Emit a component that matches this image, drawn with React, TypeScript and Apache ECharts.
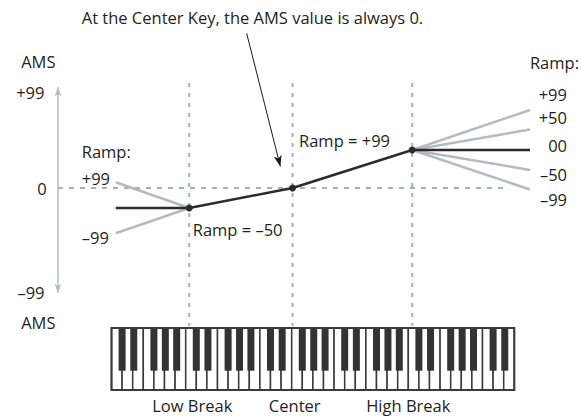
import React, { useEffect, useRef } from "react";
import * as echarts from "echarts";

// ---- data ----
const whiteKeyCount = 38; // C .. E, five octaves + 3 keys
const blackKeyOffsets = [1.0, 2.1, 4.0, 5.08, 6.15]; // C# D# F# G# A# within an octave (white-key units)
const breakNames = ["Low Break", "Center", "High Break"];
const breakKeys = [7.33, 17.08, 28.37];
const breakAms = [-20, 0, 38];
const curveStartKey = 0.4;
const curveEndKey = 39.48;
const leftRampLabels = ["+99", "–99"];
const leftRampStart = [5.7, -45.3];
const rightRampLabels = ["+99", "+50", "00", "–50", "–99"];
const rightRampEnd = [78, 58.5, 38, 18, -1.5];
const yTickLabels = ["+99", "0", "–99"];
const title = "At the Center Key, the AMS value is always 0.";

// ---- style constants ----
const FONT = "16.5px 'Open Sans'";
const TXT = "#231f20";
const DARK = "#2b2b2b";
const GRAY = "#b4bac1";
const DASH = "#a9afb6";
const KB_TOP = -140;
const KB_BOTTOM = -202;
const BK_BOTTOM = -182.7;
const BK_HALF = 0.33;
const AXIS_KEY = -5.05;

function buildOption(): any {
  const whiteKeys = Array.from({ length: whiteKeyCount }, (_, i) => [i]);
  const blackKeys: number[][] = [];
  for (let o = 0; o * 7 < whiteKeyCount; o++) {
    for (const off of blackKeyOffsets) {
      const c = o * 7 + off;
      if (c < whiteKeyCount - 0.5) blackKeys.push([c]);
    }
  }

  const series: any[] = [];

  // zero line + axis arrow + annotation arrow
  series.push({
    type: "line",
    data: [
      [AXIS_KEY, 0],
      [37.28, 0],
    ],
    symbol: "none",
    silent: true,
    lineStyle: { color: DASH, width: 2, type: [5, 6] },
    markLine: {
      silent: true,
      animation: false,
      label: { show: false },
      emphasis: { disabled: true },
      data: [
        [
          { coord: [AXIS_KEY, 100.7], symbol: "arrow", symbolSize: [5, 9], lineStyle: { color: GRAY, width: 1.5, type: "solid" } },
          { coord: [AXIS_KEY, -104.7], symbol: "arrow", symbolSize: [5, 9] },
        ],
        [
          { coord: [12.75, 154.7], symbol: "none", lineStyle: { color: "#1a1a1a", width: 1, type: "solid" } },
          { coord: [15.93, 21.6], symbol: "arrow", symbolSize: [6, 11] },
        ],
      ],
    },
  });

  // vertical dashed break lines
  breakKeys.forEach((k) => {
    series.push({
      type: "line",
      data: [
        [k, 105],
        [k, -138],
      ],
      symbol: "none",
      silent: true,
      lineStyle: { color: DASH, width: 2, type: [4, 6] },
    });
  });

  // gray ramps, left
  leftRampStart.forEach((v) => {
    series.push({
      type: "line",
      data: [
        [curveStartKey, v],
        [breakKeys[0], breakAms[0]],
      ],
      symbol: "none",
      silent: true,
      lineStyle: { color: GRAY, width: 2.5 },
    });
  });
  // gray ramps, right
  rightRampEnd.forEach((v, i) => {
    if (rightRampLabels[i] === "00") return;
    series.push({
      type: "line",
      data: [
        [breakKeys[2], breakAms[2]],
        [curveEndKey, v],
      ],
      symbol: "none",
      silent: true,
      lineStyle: { color: GRAY, width: 2.5 },
    });
  });

  // main curve
  series.push({
    type: "line",
    data: [
      { value: [curveStartKey, breakAms[0]], symbol: "none" },
      ...breakKeys.map((k, i) => [k, breakAms[i]]),
      { value: [curveEndKey, rightRampEnd[rightRampLabels.indexOf("00")]], symbol: "none" },
    ],
    symbol: "circle",
    symbolSize: 7,
    silent: true,
    z: 5,
    itemStyle: { color: DARK },
    lineStyle: { color: DARK, width: 2.5 },
  });

  // keyboard
  series.push({
    type: "custom",
    silent: true,
    z: 3,
    data: whiteKeys,
    renderItem: (params: any, api: any) => {
      const i = api.value(0);
      const p0 = api.coord([i, KB_TOP]);
      const p1 = api.coord([i + 1, KB_BOTTOM]);
      return {
        type: "rect",
        shape: { x: p0[0], y: p0[1], width: p1[0] - p0[0], height: p1[1] - p0[1] },
        style: { fill: "#ffffff", stroke: "#3a3a3a", lineWidth: 1.5 },
      };
    },
  });
  series.push({
    type: "custom",
    silent: true,
    z: 4,
    data: blackKeys,
    renderItem: (params: any, api: any) => {
      const c = api.value(0);
      const p0 = api.coord([c - BK_HALF, KB_TOP]);
      const p1 = api.coord([c + BK_HALF, BK_BOTTOM]);
      return {
        type: "rect",
        shape: { x: p0[0], y: p0[1], width: p1[0] - p0[0], height: p1[1] - p0[1] },
        style: { fill: "#333333" },
      };
    },
  });
  // keyboard outline
  series.push({
    type: "custom",
    silent: true,
    z: 4,
    data: [[0]],
    renderItem: (params: any, api: any) => {
      const p0 = api.coord([0, KB_TOP]);
      const p1 = api.coord([whiteKeyCount, KB_BOTTOM]);
      return {
        type: "rect",
        shape: { x: p0[0], y: p0[1], width: p1[0] - p0[0], height: p1[1] - p0[1] },
        style: { fill: "none", stroke: "#3a3a3a", lineWidth: 2 },
      };
    },
  });

  const t = (text: string, x: number, y: number, align: string = "left") => ({
    type: "text",
    x,
    y,
    silent: true,
    style: { text, fill: TXT, font: FONT, align, verticalAlign: "middle" },
  });

  const graphic: any[] = [
    t(title, 81.7, 17.5),
    t("AMS", 38.3, 61, "center"),
    t(yTickLabels[0], 44.5, 92, "right"),
    t(yTickLabels[1], 46.7, 188, "right"),
    t(yTickLabels[2], 44.5, 292.3, "right"),
    t("AMS", 38.3, 322, "center"),
    t("Ramp:", 81.7, 151.5),
    t(leftRampLabels[0], 81.7, 178),
    t(leftRampLabels[1], 81.7, 237.5),
    t("Ramp = –50", 192.7, 229),
    t("Ramp = +99", 299, 140),
    t("Ramp:", 579, 62.5, "right"),
    ...rightRampLabels.map((s, i) => t(s, 567, [94, 117, 145, 174, 199][i], "right")),
    t(breakNames[0], 192.3, 405, "center"),
    t(breakNames[1], 294.7, 405, "center"),
    t(breakNames[2], 408.3, 405, "center"),
  ];

  return {
    animation: false,
    backgroundColor: "#ffffff",
    grid: { left: 5.5, right: 3.1, top: 8, bottom: 8, containLabel: false },
    xAxis: { type: "value", min: -10, max: 44, show: false },
    yAxis: { type: "value", min: -220, max: 180, show: false },
    series,
    graphic,
  };
}

export default function App() {
  const ref = useRef<HTMLDivElement>(null);
  useEffect(() => {
    document.body.style.margin = "0";
    if (!ref.current) return;
    const chart = echarts.init(ref.current, undefined, { renderer: "svg" });
    chart.setOption(buildOption());
    return () => chart.dispose();
  }, []);
  return <div ref={ref} style={{ width: 581, height: 416 }} />;
}
